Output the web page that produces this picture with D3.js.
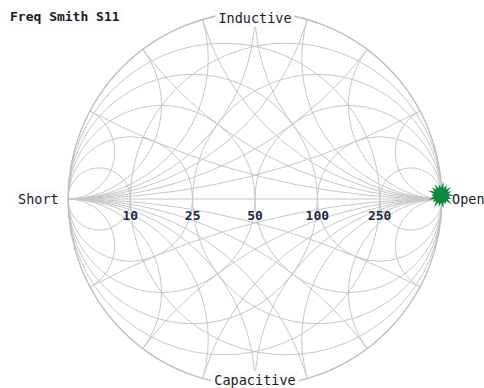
<!DOCTYPE html>
<html>
<head>
<meta charset="utf-8">
<script src="https://cdn.jsdelivr.net/npm/d3@7"></script>
<style>
  html, body { margin: 0; padding: 0; background: #ffffff; }
  svg { display: block; }
</style>
</head>
<body>
<svg id="chart" width="484" height="388"></svg>
<script>
// Chart text and reference impedance
const chartTitle = "Freq Smith S11";
const z0 = 50;                                              // ohms
const resistanceTicks = [10, 25, 50, 100, 250];             // ohms, labelled on the real axis
const reactanceValues = [0.25, 0.5, 0.75, 1, 1.333, 2, 4];  // normalised reactance / susceptance arcs
const edgeLabels = ["Short", "Open", "Inductive", "Capacitive"];

// S11 sample (reflection coefficient, real / imaginary)
const s11Re = [0.995];
const s11Im = [0.02];
// irregular spike lengths of the burst marker (px)
const burstSpikes = [13, 11, 14, 10, 13, 12, 14, 11, 13, 10, 14, 12, 13, 11, 14, 12, 13, 11];

const W = 484, H = 388;
const cx = 255, cy = 199, R = 187;

const svg = d3.select("#chart");

const x = d3.scaleLinear().domain([-1, 1]).range([cx - R, cx + R]);
const y = d3.scaleLinear().domain([-1, 1]).range([cy + R, cy - R]);
const k = R; // px per unit of reflection coefficient

svg.append("defs").append("clipPath").attr("id", "unit")
  .append("circle").attr("cx", x(0)).attr("cy", y(0)).attr("r", k);

const grid = svg.append("g").attr("clip-path", "url(#unit)")
  .attr("fill", "none").attr("stroke", "#c6c6c6").attr("stroke-width", 1);

// constant resistance circles (impedance) and constant conductance circles (admittance)
const rNorm = resistanceTicks.map(v => v / z0);
rNorm.forEach(r => {
  grid.append("circle").attr("cx", x(r / (r + 1))).attr("cy", y(0)).attr("r", k / (r + 1));
  grid.append("circle").attr("cx", x(-r / (r + 1))).attr("cy", y(0)).attr("r", k / (r + 1));
});

// constant reactance arcs through Open and constant susceptance arcs through Short
reactanceValues.forEach(v => {
  [1, -1].forEach(s => {
    grid.append("circle").attr("cx", x(1)).attr("cy", y(s / v)).attr("r", k / v);
    grid.append("circle").attr("cx", x(-1)).attr("cy", y(s / v)).attr("r", k / v);
  });
});

// real axis
grid.append("line").attr("x1", x(-1)).attr("x2", x(1)).attr("y1", y(0)).attr("y2", y(0));

// outer boundary |S11| = 1
svg.append("circle").attr("cx", x(0)).attr("cy", y(0)).attr("r", k)
  .attr("fill", "none").attr("stroke", "#bcbcbc").attr("stroke-width", 1.3);

// resistance tick labels on the real axis
svg.append("g").selectAll("text").data(resistanceTicks).join("text")
  .attr("x", d => x((d / z0 - 1) / (d / z0 + 1)))
  .attr("y", y(0) + 21)
  .attr("text-anchor", "middle")
  .attr("font-family", "DejaVu Sans Mono, monospace")
  .attr("font-size", 13).attr("font-weight", "bold")
  .attr("fill", "#1d2a45")
  .text(d => d);

// edge labels with a light backing box
function boxedLabel(txt, px, py, anchor, bold, size) {
  const g = svg.append("g");
  const t = g.append("text")
    .attr("x", px).attr("y", py)
    .attr("text-anchor", anchor)
    .attr("font-family", "DejaVu Sans Mono, monospace")
    .attr("font-size", size).attr("font-weight", bold ? "bold" : "normal")
    .attr("fill", "#1b1b2a")
    .text(txt);
  const b = t.node().getBBox();
  g.insert("rect", "text")
    .attr("x", b.x - 3).attr("y", b.y - 1)
    .attr("width", b.width + 6).attr("height", b.height + 2)
    .attr("fill", "#fbfbfb");
  return g;
}

boxedLabel(edgeLabels[0], 18, y(0) + 5, "start", false, 13.5);
boxedLabel(edgeLabels[2], x(0), 23, "middle", false, 13.5);
boxedLabel(edgeLabels[3], x(0), 385, "middle", false, 13.5);
boxedLabel(chartTitle, 10, 21, "start", true, 13);

// S11 sample drawn as a burst marker
const pts = s11Re.map((re, i) => [x(re), y(s11Im[i])]);
const burstPath = (px, py) => {
  const n = burstSpikes.length;
  const p = d3.path();
  burstSpikes.forEach((len, i) => {
    const a0 = (i / n) * 2 * Math.PI;
    const a1 = ((i + 0.5) / n) * 2 * Math.PI;
    const ox = px + len * Math.cos(a0), oy = py + len * Math.sin(a0);
    const ix = px + 7.5 * Math.cos(a1), iy = py + 7.5 * Math.sin(a1);
    if (i === 0) p.moveTo(ox, oy); else p.lineTo(ox, oy);
    p.lineTo(ix, iy);
  });
  p.closePath();
  return p.toString();
};
svg.append("g").selectAll("path").data(pts).join("path")
  .attr("d", d => burstPath(d[0], d[1]))
  .attr("fill", "#0e8a3f");

// Open label sits on top of the marker edge
boxedLabel(edgeLabels[1], 452, y(0) + 5, "start", false, 13.5).select("rect").attr("fill", "none");
</script>
</body>
</html>
